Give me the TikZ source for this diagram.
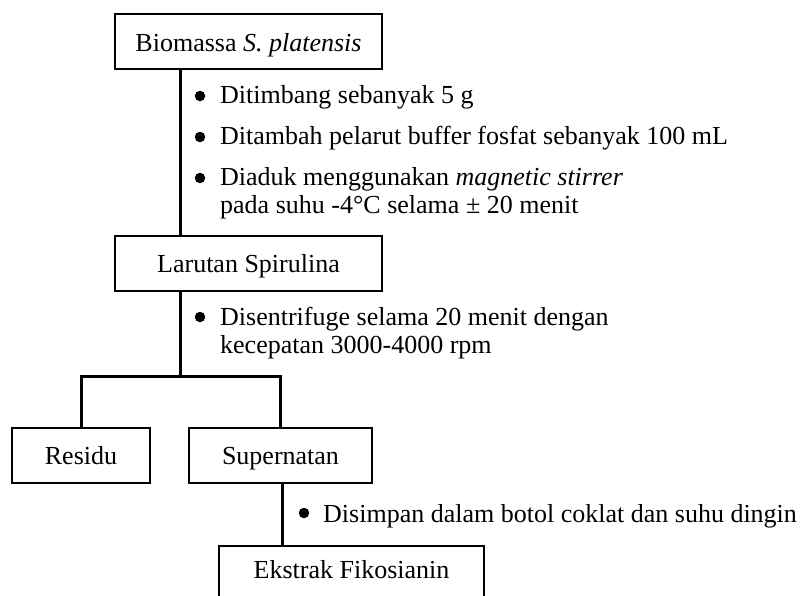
\documentclass[tikz,border=0pt]{standalone}
\usepackage{fontspec}
\setmainfont{Liberation Serif}
\begin{document}
\begin{tikzpicture}[x=1pt,y=-1pt,
  stepbox/.style={draw, line width=2pt, inner sep=0pt, minimum height=55pt,
                  text height=19pt, text depth=0pt,
                  font=\fontsize{26}{28}\selectfont},
  note/.style={anchor=base west, inner sep=0pt, font=\fontsize{26}{28}\selectfont},
  dot/.style={circle, fill, inner sep=0pt, minimum size=10.5pt},
  link/.style={line width=3pt}]
\clip (0,0) rectangle (803,595);

% process boxes
\node[stepbox, minimum width=267pt] (bio) at (248.5,41.5) {Biomassa \textit{S. platensis}};
\node[stepbox, minimum width=267pt] (lar) at (248.5,263) {Larutan Spirulina};
\node[stepbox, minimum width=138pt] (res) at (81,455) {Residu};
\node[stepbox, minimum width=183pt] (sup) at (280.5,455) {Supernatan};
\node[stepbox, minimum width=265pt, text height=10pt] (eks) at (351.5,573) {Ekstrak Fikosianin};

% guide points for the connectors
\coordinate (spine) at (180,0);
\coordinate (fork) at (180,376);
\coordinate (tail) at (282,0);

% connectors
\draw[link] (bio.south -| spine) -- (lar.north -| spine);
\draw[link] (lar.south -| spine) -- (fork);
\draw[link] (res.north) |- (fork) -| (sup.north);
\draw[link] (sup.south -| tail) -- (eks.north -| tail);

% step notes
\node[dot] (d1) at (200,96) {};
\node[note] (t1) at (220,103) {Ditimbang sebanyak 5 g};
\node[dot] (d2) at (200,137) {};
\node[note] (t2) at (220,144) {Ditambah pelarut buffer fosfat sebanyak 100 mL};
\node[dot] (d3) at (200,178) {};
\node[note] (t3) at (220,185) {Diaduk menggunakan \textit{magnetic stirrer}};
\node[note] (t3b) at (220,213) {pada suhu -4°C selama ± 20 menit};
\node[dot] (d4) at (200,317) {};
\node[note] (t4) at (220,325) {Disentrifuge selama 20 menit dengan};
\node[note] (t4b) at (220,353) {kecepatan 3000-4000 rpm};
\node[dot] (d5) at (304,513) {};
\node[note] (t5) at (323,522) {Disimpan dalam botol coklat dan suhu dingin};
\end{tikzpicture}
\end{document}
